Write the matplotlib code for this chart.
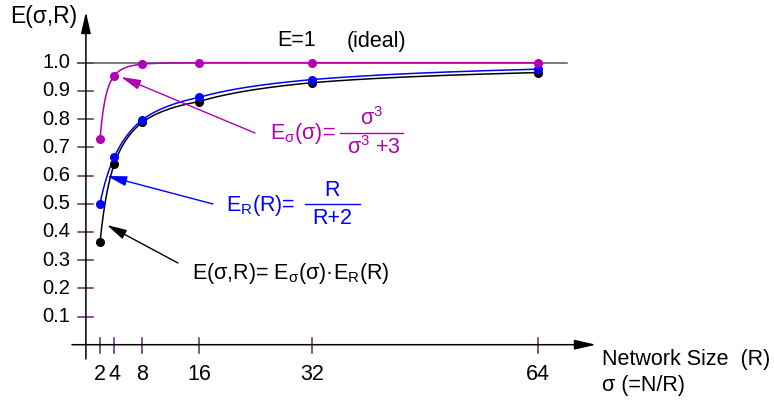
import numpy as np
import matplotlib
matplotlib.use("Agg")
import matplotlib.pyplot as plt

# ---- data ----
network_size = [2, 4, 8, 16, 32, 64]
e_sigma = [0.729, 0.953, 0.995, 1.0, 1.0, 1.0]
e_r = [0.50, 0.664, 0.798, 0.877, 0.940, 0.977]
e_total = [0.364, 0.640, 0.789, 0.862, 0.929, 0.965]
x_ticks = [2, 4, 8, 16, 32, 64]
x_tick_labels = ["2", "4", "8", "16", "32", "64"]
y_ticks = [0.1, 0.2, 0.3, 0.4, 0.5, 0.6, 0.7, 0.8, 0.9, 1.0]
y_tick_labels = ["0.1", "0.2", "0.3", "0.4", "0.5", "0.6", "0.7", "0.8", "0.9", "1.0"]

plt.rcParams["font.family"] = ["Liberation Sans", "DejaVu Sans"]
plt.rcParams["mathtext.fontset"] = "custom"
plt.rcParams["mathtext.rm"] = "Liberation Sans"
plt.rcParams["mathtext.it"] = "Liberation Sans:italic"
plt.rcParams["mathtext.bf"] = "Liberation Sans:bold"

W, H = 774, 404
fig = plt.figure(figsize=(W / 100, H / 100), dpi=100)
ax = fig.add_axes([0, 0, 1, 1])
ax.axis("off")

X0, SX, Y0, SY = 85.9, 7.06, 344.7, 282.0
ax.set_xlim(-X0 / SX, (W - X0) / SX)
ax.set_ylim((Y0 - H) / SY, Y0 / SY)


def px(xp, yp):
    return ((xp - X0) / SX, (Y0 - yp) / SY)


MAG = "#b000b0"
BLUE = "#0000ff"
TICKC = "#5a2d5f"
FS = 15.5
FS_T = 14.5

# axes with arrows
ax.annotate("", xy=px(596, Y0), xytext=px(72, Y0),
            arrowprops=dict(arrowstyle="-|>,head_length=1.3,head_width=0.3",
                            color="black", lw=1.1, mutation_scale=10,
                            shrinkA=0, shrinkB=0))
ax.annotate("", xy=px(X0, 12), xytext=px(X0, 359),
            arrowprops=dict(arrowstyle="-|>,head_length=1.3,head_width=0.3",
                            color="black", lw=1.1, mutation_scale=10,
                            shrinkA=0, shrinkB=0))

# ideal line
ax.plot([px(78, 0)[0], px(567, 0)[0]], [1.0, 1.0], color="#555555", lw=1.1, zorder=2)

# ticks
for yt in y_ticks:
    ax.plot([px(78, 0)[0], px(93, 0)[0]], [yt, yt], color=TICKC, lw=1.1, zorder=1)
for xt in x_ticks:
    ax.plot([xt, xt], [px(0, 338)[1], px(0, 353)[1]], color=TICKC, lw=1.1, zorder=1)

# tick labels
for yt, lab in zip(y_ticks, y_tick_labels):
    ax.text(px(70, 0)[0], yt, lab, ha="right", va="center", fontsize=FS_T)
for xt, lab in zip(x_ticks, x_tick_labels):
    ax.text(xt, px(0, 374)[1], lab, ha="center", va="center", fontsize=FS)

# axis labels
ax.text(*px(10, 16), "E(σ,R)", ha="left", va="center", fontsize=16.5)
ax.text(*px(602, 360), "Network Size  (R)", ha="left", va="center", fontsize=FS)
ax.text(*px(602, 386), "σ (=N/R)", ha="left", va="center", fontsize=FS)


# smooth curves: shape of the formulas printed in the chart,
# bent so that they pass through the dots
def curve_through(f, xs, xd, yd):
    xd = np.asarray(xd, float)
    res = np.asarray(yd, float) - f(xd)
    return f(xs) + np.interp(np.log2(xs), np.log2(xd), res)


def f_sigma(x):
    return x ** 3 / (x ** 3 + 3)


def f_r(x):
    return x / (x + 2)


def f_tot(x):
    return f_sigma(x) * f_r(x)


xs = np.linspace(network_size[0], network_size[-1], 1000)
ax.plot(xs, curve_through(f_tot, xs, network_size, e_total), color="black", lw=1.1, zorder=3)
ax.plot(xs, curve_through(f_r, xs, network_size, e_r), color=BLUE, lw=1.1, zorder=3)
ax.plot(xs, curve_through(f_sigma, xs, network_size, e_sigma), color=MAG, lw=1.1, zorder=3)

ax.plot(network_size, e_total, "o", color="black", ms=5.5, zorder=4)
ax.plot(network_size, e_r, "o", color=BLUE, ms=5.5, zorder=4)
ax.plot(network_size, e_sigma, "o", color=MAG, ms=5.5, zorder=5)

# annotation arrows
astyle = "-|>,head_length=1.2,head_width=0.3"
ax.annotate("", xy=px(121, 77), xytext=px(255, 133),
            arrowprops=dict(arrowstyle=astyle, color=MAG, lw=1.0,
                            mutation_scale=10, shrinkA=0, shrinkB=0))
ax.annotate("", xy=px(107, 176), xytext=px(213, 204),
            arrowprops=dict(arrowstyle=astyle, color=BLUE, lw=1.0,
                            mutation_scale=10, shrinkA=0, shrinkB=0))
ax.annotate("", xy=px(107, 225), xytext=px(178, 263),
            arrowprops=dict(arrowstyle=astyle, color="black", lw=1.0,
                            mutation_scale=10, shrinkA=0, shrinkB=0))

# texts
ax.text(*px(277, 41), "E=1", ha="left", va="center", fontsize=FS)
ax.text(*px(347, 41), "(ideal)", ha="left", va="center", fontsize=FS)

# magenta formula
ax.text(*px(270, 133), r"E$_{\mathregular{σ}}$(σ)=", ha="left", va="center",
        fontsize=FS, color=MAG)
ax.plot([px(340, 0)[0], px(403, 0)[0]], [px(0, 133)[1]] * 2, color=MAG, lw=1.0)
ax.text(*px(372, 119), r"σ$^{\mathregular{3}}$", ha="center", va="center",
        fontsize=FS, color=MAG)
ax.text(*px(374, 148), r"σ$^{\mathregular{3}}$ +3", ha="center", va="center",
        fontsize=FS, color=MAG)

# blue formula
ax.text(*px(226, 205), r"E$_{\mathregular{R}}$(R)=", ha="left", va="center",
        fontsize=FS, color=BLUE)
ax.plot([px(305, 0)[0], px(360, 0)[0]], [px(0, 204)[1]] * 2, color=BLUE, lw=1.0)
ax.text(*px(332, 191), "R", ha="center", va="center", fontsize=FS, color=BLUE)
ax.text(*px(332, 218), "R+2", ha="center", va="center", fontsize=FS, color=BLUE)

# black formula
ax.text(*px(192, 273),
        r"E(σ,R)= E$_{\mathregular{σ}}$(σ)·E$_{\mathregular{R}}$(R)",
        ha="left", va="center", fontsize=FS, color="black")

fig.savefig("out.png", dpi=100)
